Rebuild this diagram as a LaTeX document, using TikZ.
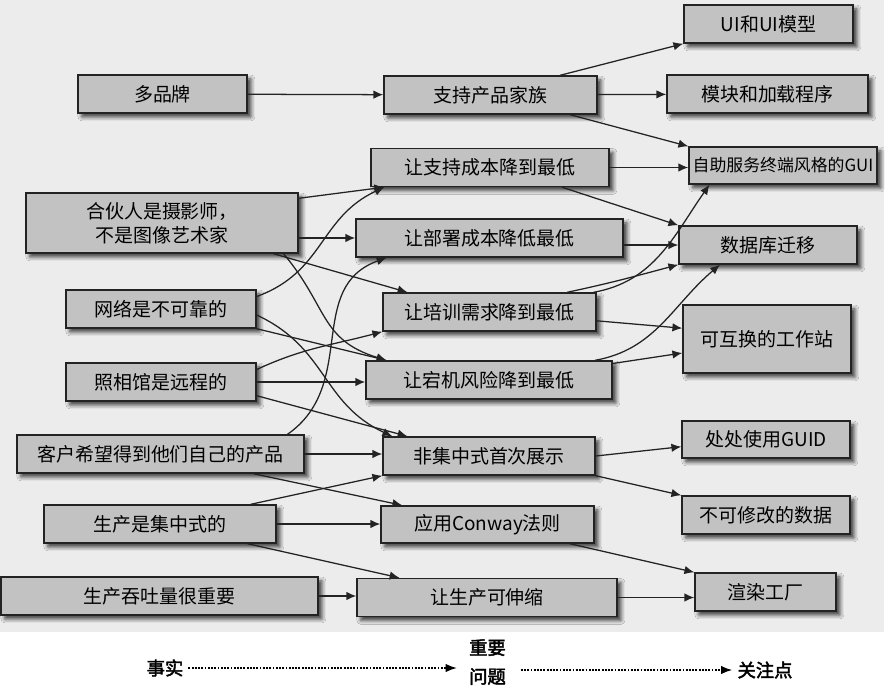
\documentclass[tikz,border=0pt]{standalone}
\usepackage{fontspec}
\setmainfont{Noto Sans CJK SC}
\newfontfamily\legendfont[FakeBold=2.5]{Noto Sans CJK SC}
\usepackage{tikz}
\usetikzlibrary{arrows.meta,positioning,shadows.blur}
\definecolor{boxgray}{RGB}{194,194,194}
\definecolor{pagegray}{RGB}{236,236,236}
\definecolor{ink}{RGB}{35,35,35}

\begin{document}
\begin{tikzpicture}[x=0.025cm,y=-0.025cm,
			mybox/.style={draw=ink,fill=boxgray,line width=1pt,inner sep=1pt,minimum height=0.95cm,
				font=\fontsize{13.5}{17}\selectfont,
				blur shadow={shadow xshift=2.8pt,shadow yshift=-2.8pt,shadow blur radius=2.8pt,shadow opacity=75}},
			arr/.style={ink,line width=0.9pt,-{Latex[length=7pt,width=6pt]}},
			dotarr/.style={black,line width=1.3pt,densely dotted,-{Latex[length=8pt,width=6pt]}},
			legend/.style={inner sep=3.5pt,font=\legendfont\fontsize{13}{20.5}\selectfont}
		]
		\useasboundingbox (0,0) rectangle (889,693);
		\fill[pagegray] (0,0) rectangle (884,632);

		% facts
		\node[mybox,minimum width=4.225cm] (brand) at (162.5,94) {多品牌};
		\node[mybox,minimum width=6.8cm,minimum height=1.5cm,align=center] (partner) at (162,223) {合伙人是摄影师，\\不是图像艺术家};
		\node[mybox,minimum width=4.75cm] (network) at (161,309) {网络是不可靠的};
		\node[mybox,minimum width=4.75cm] (studio) at (161,382) {照相馆是远程的};
		\node[mybox,minimum width=7.175cm] (customer) at (160.5,454) {客户希望得到他们自己的产品};
		\node[mybox,minimum width=5.8cm] (central) at (160,524) {生产是集中式的};
		\node[mybox,minimum width=7.925cm] (throughput) at (159.5,596) {生产吞吐量很重要};

		% issues
		\node[mybox,minimum width=5.325cm] (family) at (490.5,95) {支持产品家族};
		\node[mybox,minimum width=5.95cm] (support) at (490,167.5) {让支持成本降到最低};
		\node[mybox,minimum width=6.675cm] (deploy) at (489.5,238) {让部署成本降低最低};
		\node[mybox,minimum width=5.325cm] (training) at (489.5,312) {让培训需求降到最低};
		\node[mybox,minimum width=6.15cm] (downtime) at (489,380) {让宕机风险降到最低};
		\node[mybox,minimum width=5.3cm] (rollout) at (489,456) {非集中式首次展示};
		\node[mybox,minimum width=5.325cm,minimum height=0.925cm] (conway) at (487.5,524.5) {应用Conway法则};
		\node[mybox,minimum width=6.5cm] (scale) at (487,597.5) {让生产可伸缩};

		% concerns
		\node[mybox,minimum width=4.225cm] (ui) at (768.5,24) {UI和UI模型};
		\node[mybox,minimum width=5.025cm] (modules) at (767.5,94) {模块和加载程序};
		\node[mybox,minimum width=4.7cm,minimum height=0.925cm,font=\fontsize{12}{14}\selectfont] (kiosk) at (783,165.5) {自助服务终端风格的GUI};
		\node[mybox,minimum width=4.45cm] (dbmig) at (768,245) {数据库迁移};
		\node[mybox,minimum width=4.2cm,minimum height=1.7cm] (workst) at (767,339) {可互换的工作站};
		\node[mybox,minimum width=4.2cm,minimum height=0.925cm] (guid) at (766,439.5) {处处使用GUID};
		\node[mybox,minimum width=4.2cm] (immut) at (766,515) {不可修改的数据};
		\node[mybox,minimum width=3.525cm] (render) at (765.5,592) {渲染工厂};

		% facts -> issues
		\draw[arr] (brand) -- (family);
		\draw[arr] ([yshift=-0.15cm]partner.north east) -- ([xshift=0.35cm]support.south west);
		\draw[arr] (partner.east |- deploy.west) -- (deploy.west);
		\draw[arr] ([xshift=-0.63cm]partner.south east) -- ([xshift=0.63cm]training.north west);
		\draw[arr] ([xshift=-0.38cm]partner.south east) to[out=-50,in=163,looseness=1.2] ([xshift=0.53cm]downtime.north west);
		\draw[arr] ([yshift=-0.18cm]network.north east) to[out=20,in=205,looseness=1.1] ([xshift=0.35cm]support.south west);
		\draw[arr] (network.south east) -- ([xshift=0.53cm]downtime.north west);
		\draw[arr] ([yshift=-0.15cm]network.east) to[out=-25,in=155,looseness=1.1] ([xshift=0.25cm]rollout.north west);
		\draw[arr] ([yshift=-0.18cm]studio.north east) to[out=25,in=195] (training.south west);
		\draw[arr] (studio.east) -- (studio.east -| downtime.west);
		\draw[arr] ([yshift=0.15cm]studio.south east) -- ([xshift=0.63cm]rollout.north west);
		\draw[arr] ([xshift=-0.43cm]customer.north east) to[out=35,in=200,looseness=1.1] ([xshift=0.78cm]deploy.south west);
		\draw[arr] (customer.east) -- (customer.east -| rollout.west);
		\draw[arr] ([xshift=-1.28cm]customer.south east) -- ([xshift=0.55cm]conway.north west);
		\draw[arr] ([xshift=-0.65cm]central.north east) -- (rollout.south west);
		\draw[arr] (central.east) -- (central.east -| conway.west);
		\draw[arr] ([xshift=-0.73cm]central.south east) -- ([xshift=1.08cm]scale.north west);
		\draw[arr] (throughput.east) -- (throughput.east -| scale.west);

		% issues -> concerns
		\draw[arr] ([xshift=1.74cm]family.north) -- (ui.south west);
		\draw[arr] (family) -- (modules);
		\draw[arr] ([xshift=1.99cm]family.south) -- (kiosk.north west);
		\draw[arr] (support.east) -- (support.east -| kiosk.west);
		\draw[arr] ([xshift=1.8cm]support.south) -- (dbmig.north west);
		\draw[arr] (deploy.east |- dbmig.west) -- (dbmig.west);
		\draw[arr] ([xshift=1.94cm]training.north) to[out=12,in=195] (dbmig.south west);
		\draw[arr] ([xshift=-0.08cm]training.north east) to[out=10,in=235] ([xshift=0.53cm]kiosk.south west);
		\draw[arr] ([yshift=-0.22cm]training.east) -- ([yshift=0.27cm]workst.west);
		\draw[arr] ([yshift=-0.08cm]downtime.north east) -- ([yshift=-0.35cm]workst.west);
		\draw[arr] ([xshift=2.65cm]downtime.north) to[out=10,in=220] ([xshift=-1.2cm]dbmig.south);
		\draw[arr] (rollout.east) -- ([yshift=-0.18cm]guid.west);
		\draw[arr] (rollout.south east) -- (immut.north west);
		\draw[arr] ([xshift=2.06cm]conway.south) -- (render.north west);
		\draw[arr] (scale.east) -- (scale.east -| render.west);

		% legend
		\node[legend] (facts) at (165,668) {事实};
		\node[legend,align=center] (issues) at (487.5,662) {重要\\问题};
		\node[legend] (concerns) at (765,670) {关注点};
		\draw[dotarr,shorten >=5pt] (facts.east) -- (facts.east -| issues.west);
		\draw[dotarr,shorten <=7pt] (issues.east |- concerns.west) -- (concerns.west);

	\end{tikzpicture}
\end{document}
